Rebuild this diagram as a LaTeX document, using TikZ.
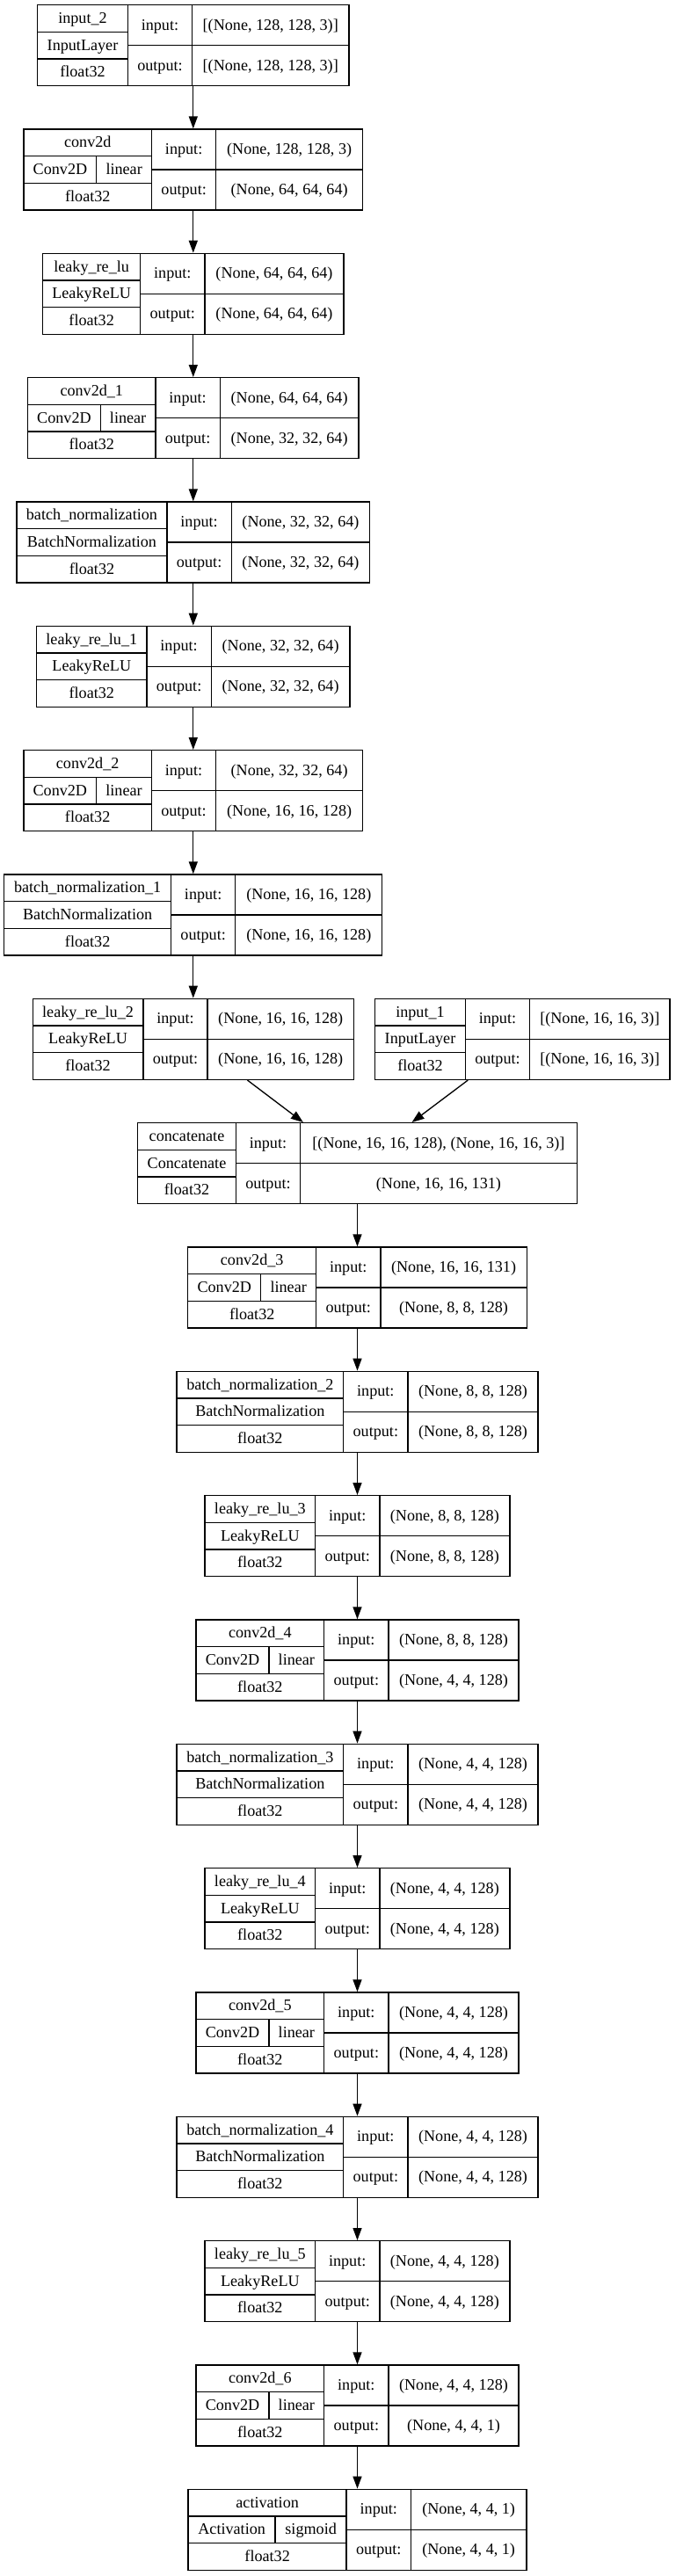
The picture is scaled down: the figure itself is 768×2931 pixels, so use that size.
\documentclass[tikz,border=0pt]{standalone}
\usepackage{fontspec}
\setmainfont{Liberation Serif}
\usetikzlibrary{arrows.meta}
\tikzset{
  box/.style={draw=black, line width=1pt, rectangle, inner sep=0pt, minimum height=69pt},
  grid/.style={draw=black, line width=1pt},
  lbl/.style={inner sep=0pt, anchor=base, font=\fontsize{13.6pt}{16pt}\selectfont},
  edge/.style={draw=black, line width=1pt, -{Triangle[length=10.5pt,width=7.5pt]}}
}
\def\LIO{73.3}
% #1 name, #2 cx, #3 index, #4 left-col width, #5 value-col width
\newcommand\geom[5]{%
  \pgfmathsetmacro\Ltp{5.7+141.33*#3}%
  \pgfmathsetmacro\Lbt{\Ltp+92}%
  \pgfmathsetmacro\Llft{#2-(#4+\LIO+#5)/2}%
  \pgfmathsetmacro\LdA{\Llft+#4}%
  \pgfmathsetmacro\LdB{\LdA+\LIO}%
  \pgfmathsetmacro\Lrgt{\LdB+#5}%
  \pgfmathsetmacro\Lwid{(#4+\LIO+#5)*0.75}%
  \node[box, minimum width=\Lwid pt] (#1) at (#2,\Ltp+46) {};
  \draw[grid] (\LdA,\Ltp) -- (\LdA,\Lbt) (\LdB,\Ltp) -- (\LdB,\Lbt)
    (\Llft,\Ltp+30.67) -- (\LdA,\Ltp+30.67) (\Llft,\Ltp+61.33) -- (\LdA,\Ltp+61.33)
    (\LdA,\Ltp+46) -- (\Lrgt,\Ltp+46);
}
% #1 name, #2 row1, #3 row2, #4 row3, #5 input, #6 output
\newcommand\txt[6]{%
  \node[lbl] (#1-a) at ({(\Llft+\LdA)/2},\Ltp+15.33+5.4) {#2};
  \node[lbl] (#1-b) at ({(\Llft+\LdA)/2},\Ltp+46+5.4) {#3};
  \node[lbl] (#1-c) at ({(\Llft+\LdA)/2},\Ltp+76.67+5.4) {#4};
  \node[lbl] (#1-i) at ({(\LdA+\LdB)/2},\Ltp+23+5.4) {input:};
  \node[lbl] (#1-o) at ({(\LdA+\LdB)/2},\Ltp+69+5.4) {output:};
  \node[lbl] (#1-iv) at ({(\LdB+\Lrgt)/2},\Ltp+23+5.4) {#5};
  \node[lbl] (#1-ov) at ({(\LdB+\Lrgt)/2},\Ltp+69+5.4) {#6};
}
% #1 name, #2 row1, #3 row2a, #4 row2b, #5 sub offset, #6 row3, #7 input, #8 output
\newcommand\txtS[8]{%
  \pgfmathsetmacro\Lsub{\Llft+#5}%
  \draw[grid] (\Lsub,\Ltp+30.67) -- (\Lsub,\Ltp+61.33);
  \node[lbl] (#1-a) at ({(\Llft+\LdA)/2},\Ltp+15.33+5.4) {#2};
  \node[lbl] (#1-b) at ({(\Llft+\Lsub)/2},\Ltp+46+5.4) {#3};
  \node[lbl] (#1-b2) at ({(\Lsub+\LdA)/2},\Ltp+46+5.4) {#4};
  \node[lbl] (#1-c) at ({(\Llft+\LdA)/2},\Ltp+76.67+5.4) {#6};
  \node[lbl] (#1-i) at ({(\LdA+\LdB)/2},\Ltp+23+5.4) {input:};
  \node[lbl] (#1-o) at ({(\LdA+\LdB)/2},\Ltp+69+5.4) {output:};
  \node[lbl] (#1-iv) at ({(\LdB+\Lrgt)/2},\Ltp+23+5.4) {#7};
  \node[lbl] (#1-ov) at ({(\LdB+\Lrgt)/2},\Ltp+69+5.4) {#8};
}
\begin{document}
\begin{tikzpicture}[x=0.75pt,y=-0.75pt]
\useasboundingbox (0,0) rectangle (768,2931);
\fill[white] (0,0) rectangle (768,2931);

\geom{in2}{219.8}{0}{102.6}{178.3}
\txt{in2}{input\_2}{InputLayer}{float32}{[(None, 128, 128, 3)]}{[(None, 128, 128, 3)]}

\geom{c0}{219.8}{1}{145.4}{166.7}
\txtS{c0}{conv2d}{Conv2D}{linear}{82.7}{float32}{(None, 128, 128, 3)}{(None, 64, 64, 64)}

\geom{l0}{219.8}{2}{111}{158}
\txt{l0}{leaky\_re\_lu}{LeakyReLU}{float32}{(None, 64, 64, 64)}{(None, 64, 64, 64)}

\geom{c1}{219.8}{3}{145.3}{157.7}
\txtS{c1}{conv2d\_1}{Conv2D}{linear}{82.6}{float32}{(None, 64, 64, 64)}{(None, 32, 32, 64)}

\geom{b0}{219.8}{4}{171}{157.4}
\txt{b0}{batch\_normalization}{BatchNormalization}{float32}{(None, 32, 32, 64)}{(None, 32, 32, 64)}

\geom{l1}{219.8}{5}{125.3}{157.7}
\txt{l1}{leaky\_re\_lu\_1}{LeakyReLU}{float32}{(None, 32, 32, 64)}{(None, 32, 32, 64)}

\geom{c2}{219.8}{6}{145.3}{167}
\txtS{c2}{conv2d\_2}{Conv2D}{linear}{82.7}{float32}{(None, 32, 32, 64)}{(None, 16, 16, 128)}

\geom{b1}{219.8}{7}{189.7}{167}
\txt{b1}{batch\_normalization\_1}{BatchNormalization}{float32}{(None, 16, 16, 128)}{(None, 16, 16, 128)}

\geom{l2}{219.8}{8}{125.6}{166.2}
\txt{l2}{leaky\_re\_lu\_2}{LeakyReLU}{float32}{(None, 16, 16, 128)}{(None, 16, 16, 128)}

\geom{in1}{594.35}{8}{102.6}{159.4}
\txt{in1}{input\_1}{InputLayer}{float32}{[(None, 16, 16, 3)]}{[(None, 16, 16, 3)]}

\geom{cat}{406.5}{9}{111.6}{314.7}
\txt{cat}{concatenate}{Concatenate}{float32}{[(None, 16, 16, 128), (None, 16, 16, 3)]}{(None, 16, 16, 131)}

\geom{c3}{406.5}{10}{145.8}{166.3}
\txtS{c3}{conv2d\_3}{Conv2D}{linear}{83}{float32}{(None, 16, 16, 131)}{(None, 8, 8, 128)}

\geom{b2}{406.5}{11}{189.7}{148}
\txt{b2}{batch\_normalization\_2}{BatchNormalization}{float32}{(None, 8, 8, 128)}{(None, 8, 8, 128)}

\geom{l3}{406.5}{12}{125.4}{148}
\txt{l3}{leaky\_re\_lu\_3}{LeakyReLU}{float32}{(None, 8, 8, 128)}{(None, 8, 8, 128)}

\geom{c4}{406.5}{13}{145.7}{148}
\txtS{c4}{conv2d\_4}{Conv2D}{linear}{83}{float32}{(None, 8, 8, 128)}{(None, 4, 4, 128)}

\geom{b3}{406.5}{14}{189.7}{148}
\txt{b3}{batch\_normalization\_3}{BatchNormalization}{float32}{(None, 4, 4, 128)}{(None, 4, 4, 128)}

\geom{l4}{406.5}{15}{125.4}{148}
\txt{l4}{leaky\_re\_lu\_4}{LeakyReLU}{float32}{(None, 4, 4, 128)}{(None, 4, 4, 128)}

\geom{c5}{406.5}{16}{145.7}{148}
\txtS{c5}{conv2d\_5}{Conv2D}{linear}{83}{float32}{(None, 4, 4, 128)}{(None, 4, 4, 128)}

\geom{b4}{406.5}{17}{189.7}{148}
\txt{b4}{batch\_normalization\_4}{BatchNormalization}{float32}{(None, 4, 4, 128)}{(None, 4, 4, 128)}

\geom{l5}{406.5}{18}{125.4}{148}
\txt{l5}{leaky\_re\_lu\_5}{LeakyReLU}{float32}{(None, 4, 4, 128)}{(None, 4, 4, 128)}

\geom{c6}{406.5}{19}{145.7}{148}
\txtS{c6}{conv2d\_6}{Conv2D}{linear}{83}{float32}{(None, 4, 4, 128)}{(None, 4, 4, 1)}

\geom{act}{406.5}{20}{180}{131.4}
\txtS{act}{activation}{Activation}{sigmoid}{99}{float32}{(None, 4, 4, 1)}{(None, 4, 4, 1)}

\draw[edge] (in2) -- (c0);
\draw[edge] (c0) -- (l0);
\draw[edge] (l0) -- (c1);
\draw[edge] (c1) -- (b0);
\draw[edge] (b0) -- (l1);
\draw[edge] (l1) -- (c2);
\draw[edge] (c2) -- (b1);
\draw[edge] (b1) -- (l2);
\draw[edge] (l2) -- (cat);
\draw[edge] (in1) -- (cat);
\draw[edge] (cat) -- (c3);
\draw[edge] (c3) -- (b2);
\draw[edge] (b2) -- (l3);
\draw[edge] (l3) -- (c4);
\draw[edge] (c4) -- (b3);
\draw[edge] (b3) -- (l4);
\draw[edge] (l4) -- (c5);
\draw[edge] (c5) -- (b4);
\draw[edge] (b4) -- (l5);
\draw[edge] (l5) -- (c6);
\draw[edge] (c6) -- (act);
\end{tikzpicture}
\end{document}
